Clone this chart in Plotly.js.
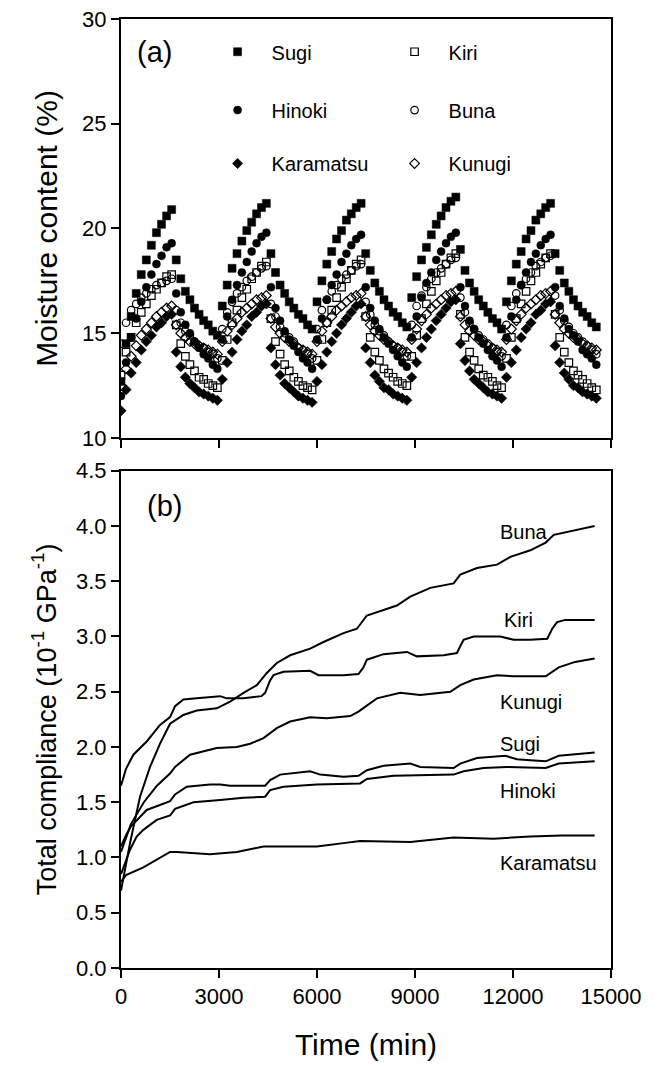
<!DOCTYPE html>
<html>
<head>
<meta charset="utf-8">
<script src="https://cdn.plot.ly/plotly-3.0.1.min.js"></script>
<style>html,body{margin:0;padding:0;background:#fff;}</style>
</head>
<body>
<div id="chart" style="width:660px;height:1067px;"></div>
<script>
// ---------- Panel (a): moisture content (%) vs time (min) ----------
const timeA = [0,155,310,465,620,775,930,1085,1240,1395,1550,
  1690,1830,1970,2110,2250,2390,2530,2670,2810,2950,
  3100,3250,3400,3550,3700,3850,4000,4150,4300,4450,
  4590,4730,4870,5010,5150,5290,5430,5570,5710,5850,
  6000,6150,6300,6450,6600,6750,6900,7050,7200,7350,
  7490,7630,7770,7910,8050,8190,8330,8470,8610,8750,
  8900,9050,9200,9350,9500,9650,9800,9950,10100,10250,
  10390,10530,10670,10810,10950,11090,11230,11370,11510,11650,
  11800,11950,12100,12250,12400,12550,12700,12850,13000,13150,
  13290,13430,13570,13710,13850,13990,14130,14270,14410,14550];

const mcSugi = [12.7,
  14.5,15.8,16.9,17.8,18.5,19.2,19.8,20.2,20.6,20.9,
  18.5,17.6,17.0,16.6,16.2,15.9,15.6,15.4,15.1,14.9,
  16.3,17.3,18.1,18.8,19.4,19.9,20.3,20.7,21.0,21.2,
  18.8,17.9,17.3,16.9,16.5,16.2,15.9,15.7,15.4,15.2,
  16.5,17.5,18.3,18.9,19.5,19.9,20.4,20.7,21.0,21.2,
  18.8,18.0,17.4,17.0,16.6,16.3,16.0,15.8,15.5,15.3,
  16.7,17.7,18.5,19.1,19.7,20.2,20.6,21.0,21.3,21.5,
  19.0,18.0,17.4,17.0,16.6,16.3,16.0,15.7,15.5,15.2,
  16.5,17.5,18.3,18.9,19.5,19.9,20.4,20.7,21.0,21.2,
  18.8,18.0,17.4,17.0,16.6,16.3,16.0,15.8,15.5,15.3];

const mcHinoki = [12.0,
  13.6,14.8,15.7,16.5,17.2,17.8,18.3,18.7,19.1,19.3,
  16.9,16.0,15.4,15.0,14.6,14.3,14.0,13.8,13.5,13.3,
  14.7,15.8,16.6,17.3,17.9,18.4,18.9,19.3,19.6,19.8,
  17.2,16.2,15.6,15.1,14.7,14.4,14.1,13.8,13.6,13.3,
  14.7,15.7,16.6,17.3,17.8,18.4,18.8,19.2,19.5,19.7,
  17.2,16.2,15.6,15.2,14.8,14.5,14.2,13.9,13.6,13.4,
  14.8,15.8,16.7,17.4,17.9,18.5,18.9,19.3,19.6,19.8,
  17.2,16.3,15.6,15.2,14.8,14.5,14.2,13.9,13.7,13.4,
  14.8,15.8,16.6,17.3,17.9,18.4,18.8,19.2,19.5,19.7,
  17.2,16.3,15.7,15.2,14.9,14.6,14.2,14.0,13.8,13.5];

const mcKaramatsu = [11.3,
  12.3,13.1,13.6,14.2,14.6,14.9,15.3,15.5,15.8,15.9,
  14.1,13.4,12.9,12.6,12.4,12.2,12.1,12.0,11.9,11.8,
  12.8,13.6,14.1,14.7,15.1,15.4,15.8,16.0,16.3,16.4,
  14.3,13.5,13.0,12.6,12.4,12.2,12.0,11.9,11.8,11.7,
  12.7,13.5,14.1,14.6,15.0,15.4,15.7,16.0,16.3,16.4,
  14.3,13.6,13.0,12.7,12.4,12.3,12.1,12.0,11.9,11.8,
  12.9,13.6,14.3,14.8,15.2,15.6,15.9,16.2,16.5,16.6,
  14.5,13.7,13.2,12.8,12.6,12.4,12.2,12.1,12.0,11.9,
  12.9,13.6,14.2,14.8,15.2,15.5,15.9,16.1,16.4,16.5,
  14.4,13.6,13.1,12.8,12.5,12.4,12.2,12.1,12.0,11.9];

const mcKiri = [13.0,
  14.1,14.8,15.5,16.0,16.4,16.8,17.1,17.4,17.7,17.8,
  15.4,14.5,13.9,13.5,13.2,12.9,12.8,12.6,12.5,12.4,
  13.7,14.7,15.5,16.1,16.7,17.1,17.6,17.9,18.2,18.4,
  15.7,14.6,14.0,13.5,13.2,12.9,12.7,12.5,12.4,12.3,
  13.7,14.7,15.5,16.1,16.7,17.2,17.6,18.0,18.3,18.5,
  15.8,14.8,14.1,13.7,13.3,13.1,12.9,12.7,12.6,12.5,
  13.9,14.9,15.7,16.4,17.0,17.5,17.9,18.3,18.6,18.8,
  15.9,14.8,14.1,13.7,13.3,13.0,12.9,12.7,12.5,12.4,
  13.8,14.8,15.7,16.4,17.0,17.5,17.9,18.3,18.6,18.8,
  15.9,14.8,14.1,13.6,13.2,13.0,12.8,12.6,12.4,12.3];

const mcBuna = [14.5,
  15.5,16.1,16.4,16.7,16.9,17.1,17.3,17.4,17.5,17.6,
  16.1,15.5,15.1,14.9,14.6,14.4,14.3,14.1,14.0,13.8,
  15.2,16.0,16.5,16.9,17.2,17.5,17.7,17.9,18.1,18.2,
  16.4,15.8,15.3,15.0,14.8,14.6,14.3,14.2,14.0,13.8,
  15.2,16.1,16.6,17.0,17.3,17.6,17.8,18.0,18.2,18.3,
  16.5,15.9,15.4,15.1,14.9,14.6,14.4,14.3,14.1,13.9,
  15.4,16.3,16.8,17.2,17.6,17.9,18.1,18.3,18.5,18.6,
  16.7,16.0,15.5,15.2,14.9,14.7,14.5,14.3,14.1,13.9,
  15.4,16.3,16.9,17.3,17.6,17.9,18.2,18.4,18.6,18.7,
  16.8,16.1,15.6,15.3,15.0,14.8,14.6,14.4,14.2,14.0];

const mcKunugi = [12.5,
  13.3,13.9,14.4,14.9,15.2,15.5,15.8,16.0,16.2,16.3,
  15.4,15.0,14.8,14.6,14.5,14.4,14.3,14.2,14.1,14.0,
  14.6,15.1,15.4,15.7,16.0,16.2,16.4,16.6,16.7,16.8,
  15.7,15.3,15.0,14.8,14.6,14.5,14.3,14.2,14.1,14.0,
  14.6,15.1,15.5,15.8,16.1,16.3,16.5,16.7,16.8,16.9,
  15.8,15.4,15.1,14.9,14.7,14.6,14.4,14.3,14.2,14.1,
  14.7,15.2,15.6,15.9,16.2,16.4,16.6,16.8,16.9,17.0,
  15.8,15.4,15.1,14.9,14.7,14.6,14.4,14.3,14.2,14.1,
  14.7,15.2,15.6,15.9,16.2,16.4,16.6,16.8,16.9,17.0,
  15.9,15.5,15.2,15.0,14.8,14.7,14.5,14.4,14.3,14.2];

// ---------- Panel (b): total compliance (10^-1 GPa^-1) vs time (min) ----------
const tBuna = [0,100,276,582,889,1195,1502,1910,2318,2930,3340,3750,4158,4464,4770,5178,5790,6199,6811,7221,7527,8446,8855,9467,10182,10386,10897,11510,11919,12531,13000,13250,13700,14100,14500];
const cBuna = [0.70,0.85,1.13,1.55,1.82,2.03,2.21,2.29,2.33,2.35,2.41,2.49,2.56,2.67,2.76,2.83,2.89,2.95,3.03,3.07,3.19,3.28,3.36,3.44,3.48,3.56,3.62,3.65,3.72,3.78,3.85,3.92,3.95,3.98,4.00];

const tKiri = [0,150,378,787,1195,1502,1655,1910,2318,3034,3238,3750,4300,4412,4560,4668,4975,5790,6046,6811,7270,7420,7527,8037,8752,9058,9875,10284,10400,10488,10795,11612,12021,12531,13050,13200,13350,13600,14500];
const cKiri = [1.65,1.80,1.93,2.05,2.20,2.27,2.37,2.43,2.44,2.46,2.44,2.44,2.46,2.49,2.60,2.65,2.68,2.69,2.65,2.65,2.66,2.72,2.79,2.84,2.86,2.82,2.83,2.85,2.92,2.97,3.00,3.00,2.97,2.97,2.98,3.07,3.13,3.15,3.15];

const tKunugi = [0,150,300,700,1100,1500,1655,2114,2930,3545,3954,4362,4770,5178,5790,6300,7016,7270,7833,8548,9160,10080,10386,10795,11510,12021,12531,13000,13400,13900,14500];
const cKunugi = [1.05,1.18,1.30,1.50,1.65,1.76,1.82,1.93,1.99,2.00,2.03,2.08,2.17,2.23,2.27,2.26,2.28,2.32,2.44,2.49,2.47,2.50,2.56,2.61,2.65,2.64,2.64,2.64,2.72,2.77,2.80];

const tSugi = [0,150,300,787,1502,1655,2012,2726,3034,3340,4412,4566,4873,5790,6097,6811,7270,7527,8037,8855,9160,10182,10386,10897,11765,12122,12531,13000,13400,14500];
const cSugi = [1.10,1.20,1.28,1.43,1.51,1.57,1.64,1.66,1.66,1.65,1.65,1.70,1.75,1.78,1.75,1.73,1.74,1.79,1.83,1.85,1.82,1.81,1.85,1.90,1.92,1.89,1.88,1.87,1.92,1.95];

const tHinoki = [0,150,276,480,685,1093,1502,1655,2216,3034,3750,4412,4566,4975,5995,7321,7527,8344,10182,10488,11101,11816,12531,13000,13400,14500];
const cHinoki = [0.85,0.97,1.07,1.19,1.25,1.34,1.38,1.44,1.50,1.52,1.54,1.55,1.61,1.64,1.66,1.67,1.71,1.74,1.75,1.78,1.81,1.82,1.81,1.81,1.85,1.87];

const tKaramatsu = [0,154,685,1093,1502,1706,2726,3545,4362,4975,5995,6811,7321,8855,10182,11408,12531,13500,14500];
const cKaramatsu = [0.78,0.84,0.91,0.98,1.05,1.05,1.03,1.05,1.10,1.10,1.10,1.13,1.15,1.14,1.18,1.17,1.19,1.20,1.20];

const xTicks = [0,3000,6000,9000,12000,15000];
const xTickText = ['0','3000','6000','9000','12000','15000'];
const labelNames = ['Buna','Kiri','Kunugi','Sugi','Hinoki','Karamatsu'];
const labelX = [11554,11667,11554,11554,11554,11554];
const labelY = [3.95,3.15,2.41,2.03,1.60,0.95];

// ---------- build ----------
const FONT = 'Liberation Sans, Arial, Helvetica, sans-serif';

function mk(name, y, symbol, legend) {
  const open = symbol.indexOf('open') >= 0;
  return {
    x: timeA, y: y, name: name, mode: 'markers', type: 'scatter',
    xaxis: 'x', yaxis: 'y', legend: legend,
    marker: {symbol: symbol, size: open ? 7.5 : 8, color: 'black', line: {color: 'black', width: open ? 1.2 : 0.5}}
  };
}
const traces = [
  mk('Kunugi', mcKunugi, 'diamond-open', 'legend3'),
  mk('Buna', mcBuna, 'circle-open', 'legend2'),
  mk('Kiri', mcKiri, 'square-open', 'legend'),
  mk('Karamatsu', mcKaramatsu, 'diamond', 'legend3'),
  mk('Hinoki', mcHinoki, 'circle', 'legend2'),
  mk('Sugi', mcSugi, 'square', 'legend')
];
const lineSets = [[tBuna,cBuna],[tKiri,cKiri],[tKunugi,cKunugi],[tSugi,cSugi],[tHinoki,cHinoki],[tKaramatsu,cKaramatsu]];
lineSets.forEach((s, i) => traces.push({
  x: s[0], y: s[1], name: labelNames[i], mode: 'lines', type: 'scatter',
  xaxis: 'x2', yaxis: 'y2', showlegend: false,
  line: {color: 'black', width: 2}
}));

const axBase = {
  showline: true, linewidth: 2, linecolor: 'black', mirror: true,
  ticks: 'outside', ticklen: 8, tickwidth: 1.5, tickcolor: 'black',
  showgrid: false, zeroline: false,
  tickfont: {family: FONT, size: 22, color: 'black'}
};

const annotations = [
  {text: '(a)', xref: 'paper', yref: 'paper', x: 0.028, y: 0.9655, xanchor: 'left', yanchor: 'middle', showarrow: false, font: {family: FONT, size: 29, color: 'black'}},
  {text: '(b)', xref: 'paper', yref: 'paper', x: 0.048, y: 0.4865, xanchor: 'left', yanchor: 'middle', showarrow: false, font: {family: FONT, size: 29, color: 'black'}}
];
labelNames.forEach((n, i) => annotations.push({
  text: n, xref: 'x2', yref: 'y2', x: labelX[i], y: labelY[i], xanchor: 'left', yanchor: 'middle',
  showarrow: false, font: {family: FONT, size: 20, color: 'black'}
}));

const legBase = {
  orientation: 'h', xanchor: 'left', yanchor: 'middle', bgcolor: 'rgba(0,0,0,0)',
  font: {family: FONT, size: 20, color: 'black'}, entrywidth: 104, entrywidthmode: 'pixels',
  itemwidth: 58, traceorder: 'reversed'
};

const layout = {
  width: 660, height: 1067,
  margin: {l: 121, r: 49, t: 19, b: 99},
  paper_bgcolor: 'white', plot_bgcolor: 'white',
  font: {family: FONT, color: 'black'},
  showlegend: true,
  xaxis: Object.assign({}, axBase, {domain: [0, 1], anchor: 'y', range: [0, 15000], tickvals: xTicks, showticklabels: false}),
  yaxis: Object.assign({}, axBase, {domain: [0.5585, 1], anchor: 'x', range: [10, 30], tickvals: [10, 15, 20, 25, 30],
    title: {text: 'Moisture content (%)', font: {family: FONT, size: 30, color: 'black'}, standoff: 16}}),
  xaxis2: Object.assign({}, axBase, {domain: [0, 1], anchor: 'y2', range: [0, 15000], tickvals: xTicks, ticktext: xTickText,
    title: {text: 'Time (min)', font: {family: FONT, size: 30, color: 'black'}, standoff: 26}}),
  yaxis2: Object.assign({}, axBase, {domain: [0, 0.524], anchor: 'x2', range: [0, 4.5], dtick: 0.5, tick0: 0, tickformat: '.1f',
    title: {text: 'Total compliance (10<sup>-1</sup> GPa<sup>-1</sup>)', font: {family: FONT, size: 27, color: 'black'}, standoff: 12}}),
  legend: Object.assign({}, legBase, {x: 0.1685, y: 0.9655}),
  legend2: Object.assign({}, legBase, {x: 0.1685, y: 0.9040}),
  legend3: Object.assign({}, legBase, {x: 0.1685, y: 0.8478}),
  annotations: annotations
};

Plotly.newPlot('chart', traces, layout, {displayModeBar: false, responsive: false});
</script>
</body>
</html>
